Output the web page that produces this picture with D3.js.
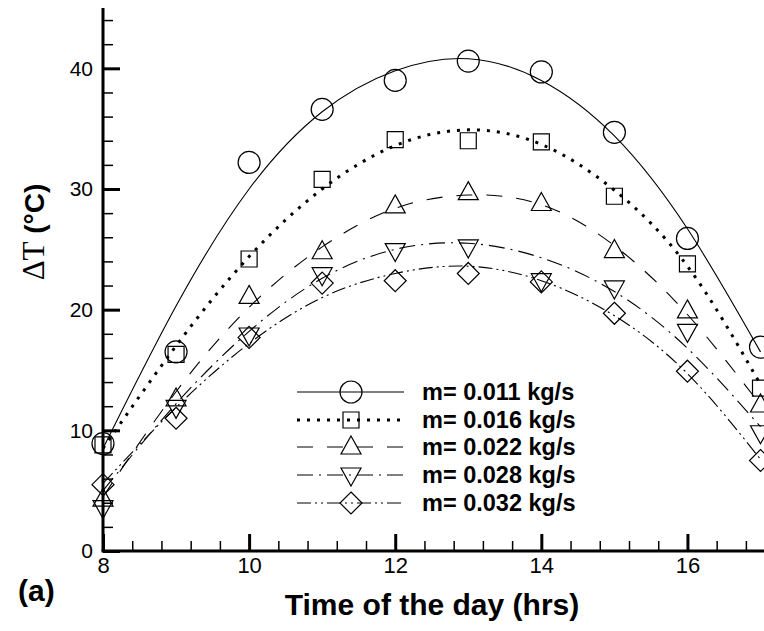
<!DOCTYPE html>
<html>
<head>
<meta charset="utf-8">
<script src="https://cdn.jsdelivr.net/npm/d3@7"></script>
<style>
  html, body { margin: 0; padding: 0; background: #fff; }
  svg { display: block; }
</style>
</head>
<body>
<div id="chart"></div>
<script>
// hours of the day (x)
var hours = [8, 9, 10, 11, 12, 13, 14, 15, 16, 17];

var meas011 = [8.9, 16.5, 32.2, 36.6, 39.0, 40.6, 39.7, 34.7, 25.9, 16.9];
var meas016 = [8.8, 16.3, 24.2, 30.8, 34.1, 34.0, 33.9, 29.4, 23.8, 13.5];
var meas022 = [4.3, 12.6, 21.1, 24.8, 28.6, 29.7, 28.8, 24.9, 19.9, 12.1];
var meas028 = [3.6, 11.9, 17.9, 22.9, 24.9, 25.2, 22.4, 21.8, 18.2, 9.8];
var meas032 = [5.5, 11.0, 17.7, 22.2, 22.4, 23.0, 22.3, 19.7, 14.9, 7.5];

// fitted curves at each hour
var fit011 = [8.5, 20.3, 30.0, 36.4, 39.8, 40.8, 39.0, 34.4, 26.7, 16.5];
var fit016 = [8.5, 17.0, 24.4, 30.0, 33.6, 34.9, 33.7, 29.9, 23.6, 13.8];
var fit022 = [4.5, 13.2, 20.2, 25.2, 28.4, 29.5, 28.7, 25.3, 19.6, 12.1];
var fit028 = [5.0, 12.2, 18.2, 22.6, 25.0, 25.5, 24.3, 21.5, 16.8, 10.3];
var fit032 = [5.6, 11.9, 17.2, 21.0, 23.0, 23.6, 22.4, 19.5, 14.7, 7.6];

var seriesNames = ['m= 0.011 kg/s', 'm= 0.016 kg/s', 'm= 0.022 kg/s', 'm= 0.028 kg/s', 'm= 0.032 kg/s'];

var xMajor = [8, 10, 12, 14, 16];
var yMajor = [0, 10, 20, 30, 40];

var W = 764, H = 631;

var series = [
    {name: seriesNames[0], meas: meas011, fit: fit011, marker: 'circle',   dash: null,                width: 1.1},
    {name: seriesNames[1], meas: meas016, fit: fit016, marker: 'square',   dash: '3,7',               width: 3},
    {name: seriesNames[2], meas: meas022, fit: fit022, marker: 'triangle', dash: '16,14',             width: 1.1},
    {name: seriesNames[3], meas: meas028, fit: fit028, marker: 'tridown',  dash: '16,6,2,6',          width: 1.1},
    {name: seriesNames[4], meas: meas032, fit: fit032, marker: 'diamond',  dash: '14,4,2,4,2,4',      width: 1.1}
];

var svg = d3.select('#chart').append('svg')
    .attr('width', W)
    .attr('height', H);

var x = d3.scaleLinear().domain([8, 17]).range([103, 760.5]);
var y = d3.scaleLinear().domain([0, 45]).range([551, 8]);

// marker shapes
function markerPath(type){
    if(type === 'circle'){
        return 'M-11,0A11,11 0 1,0 11,0A11,11 0 1,0 -11,0Z';
    }else if(type === 'square'){
        return 'M-8,-8H8V8H-8Z';
    }else if(type === 'triangle'){
        return 'M0,-11L10,7H-10Z';
    }else if(type === 'tridown'){
        return 'M0,11L10,-7H-10Z';
    }else{
        return 'M0,-11L11,0L0,11L-11,0Z';
    }
}

var line = d3.line()
    .x(function(d){ return x(d[0]); })
    .y(function(d){ return y(d[1]); })
    .curve(d3.curveNatural);

var plot = svg.append('g').classed('plot', true);

series.forEach(function(s){
    var pts = hours.map(function(h, i){ return [h, s.fit[i]]; });
    plot.append('path')
        .attr('d', line(pts))
        .attr('fill', 'none')
        .attr('stroke', '#000')
        .attr('stroke-width', s.width)
        .attr('stroke-dasharray', s.dash);

    plot.selectAll(null)
        .data(hours.map(function(h, i){ return [h, s.meas[i]]; }))
        .enter().append('path')
        .attr('d', markerPath(s.marker))
        .attr('transform', function(d){ return 'translate(' + x(d[0]) + ',' + y(d[1]) + ')'; })
        .attr('fill', 'none')
        .attr('stroke', '#000')
        .attr('stroke-width', 1.2);
});

// axes: ticks point inward
var fontSans = '"Liberation Sans", Arial, Helvetica, sans-serif';

function styleAxis(g, thick){
    g.select('.domain').remove();
    g.selectAll('.tick line').attr('stroke', '#000').attr('stroke-width', thick);
    g.selectAll('.tick text').attr('fill', '#000').style('font-family', fontSans);
}

var yMinor = d3.range(0, 45, 2).filter(function(v){ return v % 10 !== 0; });
var xMinor = d3.range(8, 17.01, 0.4).filter(function(v){ return Math.abs(v / 2 - Math.round(v / 2)) > 0.01; });

var gyMinor = svg.append('g').attr('transform', 'translate(' + x(8) + ',0)')
    .call(d3.axisLeft(y).tickValues(yMinor).tickSize(-10).tickFormat(''));
styleAxis(gyMinor, 1.5);

var gyMajor = svg.append('g').attr('transform', 'translate(' + x(8) + ',0)')
    .call(d3.axisLeft(y).tickValues(yMajor).tickSize(-17).tickPadding(10).tickFormat(d3.format('d')));
styleAxis(gyMajor, 3);
gyMajor.selectAll('.tick text').style('font-size', '21px');

var gxMinor = svg.append('g').attr('transform', 'translate(0,' + y(0) + ')')
    .call(d3.axisBottom(x).tickValues(xMinor).tickSize(-10).tickFormat(''));
styleAxis(gxMinor, 1.5);

var gxMajor = svg.append('g').attr('transform', 'translate(0,' + y(0) + ')')
    .call(d3.axisBottom(x).tickValues(xMajor).tickSize(-17).tickPadding(6).tickFormat(d3.format('d')));
styleAxis(gxMajor, 3);
gxMajor.selectAll('.tick text').style('font-size', '22px');

// axis lines
svg.append('line')
    .attr('x1', x(8)).attr('x2', x(8))
    .attr('y1', y(0)).attr('y2', y(45))
    .attr('stroke', '#000').attr('stroke-width', 3);
svg.append('line')
    .attr('x1', x(8) - 1.5).attr('x2', W)
    .attr('y1', y(0)).attr('y2', y(0))
    .attr('stroke', '#000').attr('stroke-width', 3);

// axis titles
svg.append('text')
    .attr('x', 432).attr('y', 615)
    .attr('text-anchor', 'middle')
    .style('font-family', fontSans)
    .style('font-weight', 'bold')
    .style('font-size', '30px')
    .text('Time of the day (hrs)');

var yTitle = svg.append('text')
    .attr('transform', 'translate(44,232) rotate(-90)')
    .attr('text-anchor', 'middle');
yTitle.append('tspan')
    .style('font-family', '"Liberation Serif", "Times New Roman", serif')
    .style('font-size', '31px')
    .text('\u0394T');
yTitle.append('tspan')
    .style('font-family', fontSans)
    .style('font-weight', 'bold')
    .style('font-size', '28px')
    .text(' (\u00B0C)');

svg.append('text')
    .attr('x', 18).attr('y', 601)
    .style('font-family', fontSans)
    .style('font-weight', 'bold')
    .style('font-size', '30px')
    .text('(a)');

// legend
var legendY = [392, 420, 447, 475, 503];
var legend = svg.append('g').classed('legend', true);
series.forEach(function(s, i){
    var ly = legendY[i];
    legend.append('line')
        .attr('x1', 297).attr('x2', 404)
        .attr('y1', ly).attr('y2', ly)
        .attr('stroke', '#000')
        .attr('stroke-width', s.width)
        .attr('stroke-dasharray', s.dash);
    legend.append('path')
        .attr('d', markerPath(s.marker))
        .attr('transform', 'translate(351,' + ly + ')')
        .attr('fill', 'none')
        .attr('stroke', '#000')
        .attr('stroke-width', 1.2);
    legend.append('text')
        .attr('x', 422).attr('y', ly)
        .attr('dy', '0.36em')
        .style('font-family', fontSans)
        .style('font-weight', 'bold')
        .style('font-size', '23.5px')
        .text(s.name);
});
</script>
</body>
</html>
